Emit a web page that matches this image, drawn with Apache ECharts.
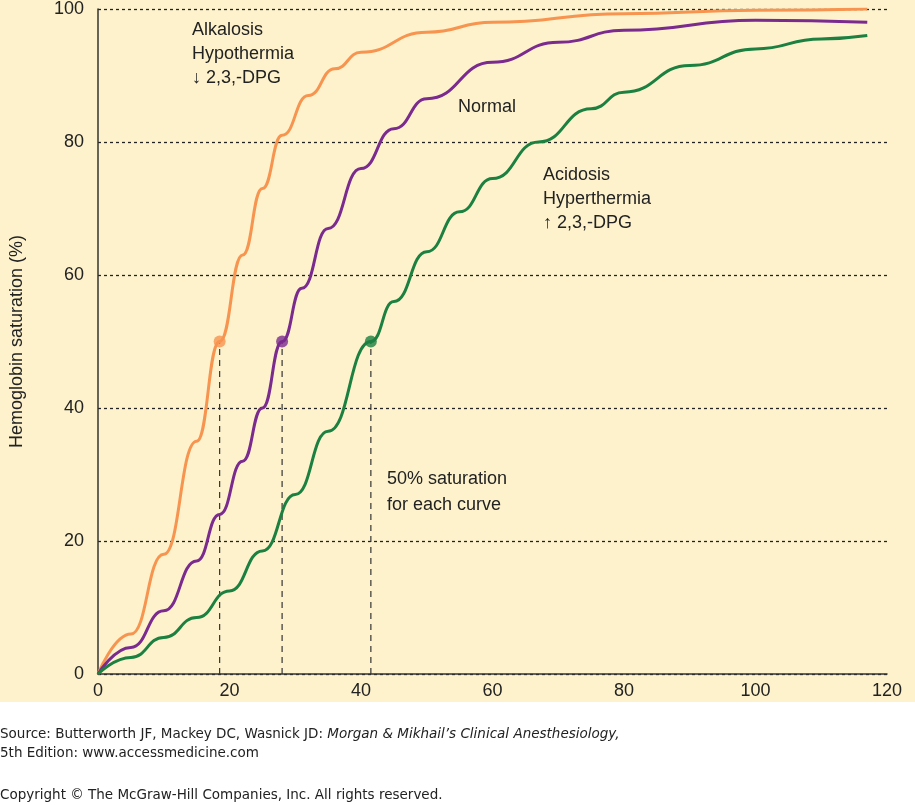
<!DOCTYPE html>
<html><head><meta charset="utf-8">
<script src="https://cdn.jsdelivr.net/npm/echarts@6/dist/echarts.min.js"></script>
<style>html,body{margin:0;padding:0;background:#fff}#c{width:915px;height:805px}</style>
</head><body><div id="c"></div>
<script>
const alkalosis = [[0,0],[5,6],[10,18],[15,35],[18.5,50],[22,63],[25,73],[28,81],[32,87],[36,91],[40,93.5],[50,96.5],[60,98],[80,99.3],[100,99.8],[117,100]];
const normal = [[0,0],[5,4],[10,9.5],[15,17],[18.5,24],[22,32],[25,40],[28,50],[31,58],[35,67],[40,76],[45,82],[50,86.5],[60,92],[70,95],[80,96.8],[100,98.3],[117,98]];
const acidosis = [[0,0],[5,2.5],[10,5.5],[15,8.5],[20,12.5],[25,18.5],[30,27],[35,36.5],[41.5,50],[45,56],[50,63.5],[55,69.5],[60,74.5],[67,80],[75,85],[80,87.5],[90,91.5],[100,94],[110,95.5],[117,96]];
const p50 = [18.5, 28, 41.5];
const colors = ['#f7944f','#7b2a8e','#1c8040'];
const xTicks = [0,20,40,60,80,100,120];
const chart = echarts.init(document.getElementById('c'));
const font = 'Liberation Sans, Arial, sans-serif';
function line(d,c){return {type:'line',data:d,smooth:0.5,smoothMonotone:'x',showSymbol:false,lineStyle:{color:c,width:3},z:3};}
const series=[line(alkalosis,colors[0]),line(normal,colors[1]),line(acidosis,colors[2])];
p50.forEach((x,i)=>{
  series.push({type:'line',data:[[x,0],[x,50]],showSymbol:false,lineStyle:{color:'#333',width:1.2,type:[6,5]},z:2});
  series.push({type:'scatter',data:[[x,50]],symbolSize:12,itemStyle:{color:colors[i]},z:4});
});
chart.setOption({
  animation:false,
  textStyle:{fontFamily:font},
  graphic:[
    {type:'rect',shape:{x:0,y:0,width:915,height:702},style:{fill:'#fdf2cc'},z:-10,silent:true},
    {type:'text',left:0,top:727,style:{text:'{n|Source: Butterworth JF, Mackey DC, Wasnick JD: }{i|Morgan & Mikhail’s Clinical Anesthesiology,}',
      rich:{n:{font:'13.5px DejaVu Sans',fill:'#222'},i:{font:'italic 13.5px DejaVu Sans',fill:'#222'}}}},
    {type:'text',left:0,top:746,style:{text:'5th Edition: www.accessmedicine.com',font:'13.5px DejaVu Sans',fill:'#222'}},
    {type:'text',left:0,top:788,style:{text:'Copyright © The McGraw-Hill Companies, Inc. All rights reserved.',font:'13.5px DejaVu Sans',fill:'#222'}},
    {type:'text',left:192,top:18,style:{text:'Alkalosis\nHypothermia\n↓ 2,3,-DPG',font:'18px '+font,fill:'#222',lineHeight:24}},
    {type:'text',left:458,top:98,style:{text:'Normal',font:'18px '+font,fill:'#222'}},
    {type:'text',left:543,top:163,style:{text:'Acidosis\nHyperthermia\n↑ 2,3,-DPG',font:'18px '+font,fill:'#222',lineHeight:24}},
    {type:'text',left:387,top:466,style:{text:'50% saturation\nfor each curve',font:'18px '+font,fill:'#222',lineHeight:26}}
  ],
  grid:{left:92,right:28,top:8,bottom:131},
  xAxis:{type:'value',min:0,max:120,interval:20,
    axisLine:{lineStyle:{color:'#333',width:1.5}},axisTick:{show:false},
    axisLabel:{color:'#222',fontSize:18,margin:8,formatter:v=>xTicks.includes(v)?String(v):''},splitLine:{show:false}},
  yAxis:{type:'value',min:0,max:100,interval:20,name:'Hemoglobin saturation (%)',nameLocation:'middle',nameGap:72,
    nameTextStyle:{fontSize:18,color:'#222'},
    axisLine:{show:true,lineStyle:{color:'#333',width:1.5}},axisTick:{show:false},
    axisLabel:{color:'#222',fontSize:18,margin:14},
    splitLine:{lineStyle:{color:'#222',type:[3,3],width:1.3}}},
  series
});
</script></body></html>
